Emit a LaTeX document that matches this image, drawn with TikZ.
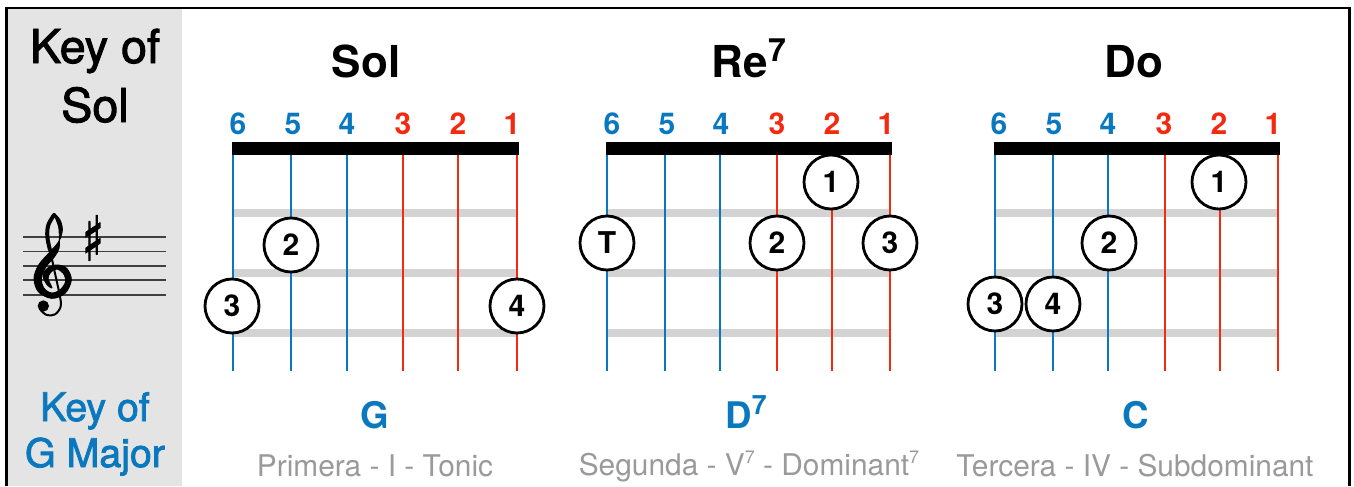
\documentclass[tikz,border=0pt]{standalone}
\usepackage{fontspec}
\setmainfont{TeX Gyre Heros}
\newfontfamily\medfont[FakeBold=2]{TeX Gyre Heros}
\newfontfamily\musicfont[FakeBold=2.5]{DejaVu Sans}
\definecolor{keyblue}{HTML}{0A78BE}
\definecolor{strred}{HTML}{F42A10}
\definecolor{panelgray}{HTML}{E4E4E4}
\definecolor{fretgray}{HTML}{D3D3D3}
\definecolor{subgray}{HTML}{9A9A9A}
\tikzset{
  blackhead/.style={font=\medfont\fontsize{35}{35}\selectfont, text=black, inner sep=0pt, anchor=base},
  bluehead/.style={font=\medfont\fontsize{29.5}{29.5}\selectfont, text=keyblue, inner sep=0pt, anchor=base},
  chordname/.style={font=\bfseries\fontsize{33}{33}\selectfont, text=black, inner sep=0pt, anchor=base},
  chordblue/.style={font=\bfseries\fontsize{27.5}{27.5}\selectfont, text=keyblue, inner sep=0pt, anchor=base},
  subline/.style={font=\fontsize{22.4}{22.4}\selectfont, text=subgray, inner sep=0pt, anchor=base},
  strnum/.style={font=\bfseries\fontsize{22.5}{22.5}\selectfont, inner sep=0pt, anchor=base},
  blue string/.style={draw=keyblue, line width=2.1pt},
  red string/.style={draw=strred, line width=2.1pt},
  nutbar/.style={fill=black, draw=none},
  fretbar/.style={fill=fretgray, draw=none},
  finger/.style={circle, draw=black, fill=white, line width=2.1pt, minimum size=40.5pt, inner sep=0pt,
    font=\bfseries\fontsize{22.5}{22.5}\selectfont},
  staffline/.style={draw=black!75, line width=0.85pt},
}
\newcommand{\fretboard}[8]{% prefix, six string x, label shift
  \fill[fretbar] (#2,209) rectangle (#7,217);
  \fill[fretbar] (#2,269) rectangle (#7,277);
  \fill[fretbar] (#2,329) rectangle (#7,337);
  \foreach \sx/\st/\lab/\col/\nx in {#2/blue string/6/keyblue/5,#3/blue string/5/keyblue/60,#4/blue string/4/keyblue/114,#5/red string/3/strred/170,#6/red string/2/strred/225,#7/red string/1/strred/279}{
    \path[\st] (\sx,150) -- (\sx,371);
    \node[strnum, text=\col] (#1-num-\lab) at (#2+\nx+#8,134) {\lab};
  }
  \fill[nutbar] (#2-1,142) rectangle (#7+2,155);
}
\begin{document}
\begin{tikzpicture}[x=0.75pt,y=-0.75pt]
\useasboundingbox (0,0) rectangle (1354,486);
\fill[white] (0,0) rectangle (1354,486);
\fill[panelgray] (7,8) rectangle (182,486);
\draw[black, line width=2pt] (6.5,486) -- (6.5,8) -- (1349.5,8) -- (1349.5,486);

\node[blackhead] (title1) at (95,63) {Key of};
\node[blackhead] (title2) at (95,122) {Sol};
\node[bluehead] (sub1) at (95,421) {Key of};
\node[bluehead] (sub2) at (95,467) {G Major};

\foreach \sy in {237,251.5,266,280,295}{\path[staffline] (23,\sy) -- (166,\sy);}
% treble clef: no listed family has the glyph, so it is drawn as a shape
\begin{scope}[shift={(10,200)}, x=0.25pt, y=-0.25pt]
  \fill[black, draw=black, line width=0.7pt, line join=round] plot[smooth cycle, tension=0.55] coordinates {
    (132,40) (150,60) (157,90) (146,125) (116,160) (86,195) (72,235) (85,275)
    (125,295) (165,280) (184,240) (170,205) (140,195) (112,205) (100,230) (112,255) (126,263)
    (114,236) (122,217) (140,207) (160,220) (167,245) (150,270) (125,279) (102,265) (94,235)
    (108,200) (132,172) (147,145) (148,110) (146,80) (138,58)};
  \draw[black, line width=3pt, line cap=round] plot[smooth, tension=0.6] coordinates {(132,45) (115,75) (112,110) (120,150)};
  \draw[black, line width=1.5pt, line cap=round] plot[smooth, tension=0.6] coordinates {(120,150) (135,220) (150,290) (152,320) (135,343) (110,345) (92,330)};
  \fill[black] (100,318) circle[radius=17];
\end{scope}
\node[inner sep=0pt, font=\musicfont\fontsize{46}{46}\selectfont] (sharp) at (93,238) {\scalebox{0.72}[1]{♯}};

\fretboard{a}{233}{291}{347}{403}{458}{517}{0}
\fretboard{b}{607}{665}{720}{777}{832}{890}{0}
\fretboard{c}{995}{1053}{1108}{1165}{1220}{1278}{-1}

\node[chordname] (n1) at (366,77) {Sol};
\node[chordname] (n2) at (749,77) {Re\raisebox{0.36em}{\fontsize{24}{24}\selectfont 7}};
\node[chordname] (n3) at (1134,77) {Do};

\node[chordblue] (g1) at (375,428) {G};
\node[chordblue] (g2) at (746,428) {D\raisebox{0.36em}{\fontsize{20}{20}\selectfont 7}};
\node[chordblue] (g3) at (1136,428) {C};

\node[subline] (s1) at (375,476) {Primera - I - Tonic};
\node[subline] (s2) at (749,475) {Segunda - V\raisebox{0.38em}{\fontsize{13.5}{13.5}\selectfont 7} - Dominant\raisebox{0.38em}{\fontsize{13.5}{13.5}\selectfont 7}};
\node[subline] (s3) at (1135,476) {Tercera - IV - Subdominant};

\node[finger] (a3) at (232,306) {3};
\node[finger] (a2) at (291,245) {2};
\node[finger] (a4) at (517,306) {4};

\node[finger] (b1) at (831,182) {1};
\node[finger] (bT) at (607,243) {T};
\node[finger] (b2) at (777,243) {2};
\node[finger] (b3) at (890,243) {3};

\node[finger] (c1) at (1219,182) {1};
\node[finger] (c2) at (1109,243) {2};
\node[finger] (c3) at (995,304) {3};
\node[finger] (c4) at (1053,304) {4};
\end{tikzpicture}
\end{document}
